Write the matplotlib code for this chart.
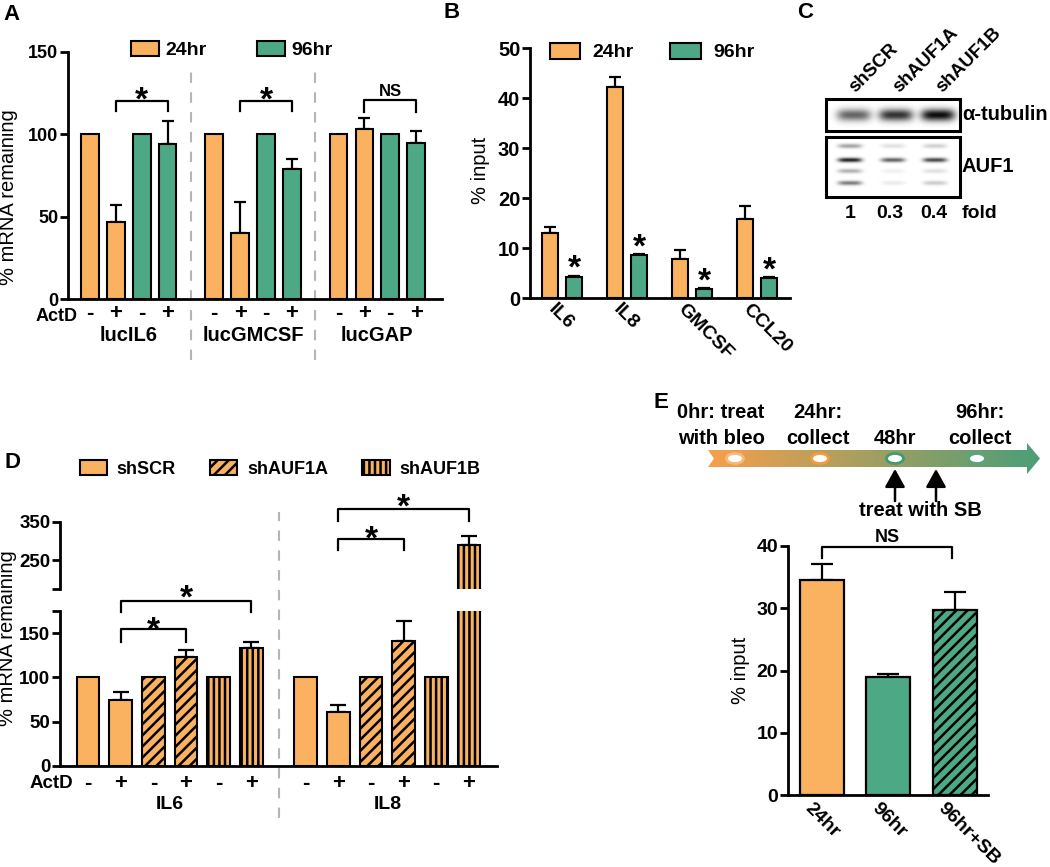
import numpy as np
import matplotlib
matplotlib.use('Agg')
import matplotlib.pyplot as plt
import matplotlib.transforms as mtrans
from matplotlib.patches import Patch, Polygon, Rectangle, Ellipse
from matplotlib.colors import LinearSegmentedColormap

plt.rcParams['font.family'] = ['Liberation Sans', 'DejaVu Sans']
plt.rcParams['font.weight'] = 'bold'
plt.rcParams['hatch.linewidth'] = 1.8

ORANGE = '#FAB160'
GREEN = '#4DA985'

# ---- panel A data
a_groups = ['lucIL6', 'lucGMCSF', 'lucGAP']
a_actd = ['-', '+', '-', '+']
a_colors = [ORANGE, ORANGE, GREEN, GREEN]
a_vals = [[100, 47, 100, 94], [100, 40, 100, 79], [100, 103, 100, 95]]
a_errs = [[0, 10, 0, 14], [0, 19, 0, 6], [0, 7, 0, 7]]
a_sig = ['*', '*', 'NS']

# ---- panel B data
b_genes = ['IL6', 'IL8', 'GMCSF', 'CCL20']
b_24 = [13.1, 42.3, 7.8, 15.8]
b_24_err = [1.1, 2.0, 1.8, 2.6]
b_96 = [4.3, 8.6, 1.8, 4.0]
b_96_err = [0.2, 0.2, 0.2, 0.2]

# ---- panel C (western blot)
c_lanes = ['shSCR', 'shAUF1A', 'shAUF1B']
c_fold = ['1', '0.3', '0.4']
c_tubulin = [0.6, 0.8, 0.95]
c_auf1 = [[0.35, 0.85, 0.3, 0.5], [0.12, 0.6, 0.06, 0.08], [0.18, 0.7, 0.12, 0.2]]

# ---- panel D data
d_genes = ['IL6', 'IL8']
d_lanes = ['shSCR', 'shAUF1A', 'shAUF1B']
d_hatch = ['', '', '///', '///', '|||', '|||']
d_actd = ['-', '+', '-', '+', '-', '+']
d_vals = [[100, 74, 100, 123, 100, 133], [100, 61, 100, 141, 100, 291]]
d_errs = [[0, 9, 0, 8, 0, 7], [0, 8, 0, 23, 0, 23]]

# ---- panel E data
e_conds = ['24hr', '96hr', '96hr+SB']
e_vals = [34.5, 19.0, 29.7]
e_errs = [2.6, 0.4, 2.9]
e_colors = [ORANGE, GREEN, GREEN]
e_hatch = ['', '', '///']
e_steps = [['0hr: treat', 'with bleo'], ['24hr:', 'collect'], ['48hr'], ['96hr:', 'collect']]

W, H = 1050, 867
fig = plt.figure(figsize=(W / 100, H / 100), dpi=100)

# overlay in pixel coords for letters, blot and timeline
ov = fig.add_axes([0, 0, 1, 1])
ov.axis('off')


def box_axes(x0, y0, x1, y1):
    return fig.add_axes([x0 / W, 1 - y1 / H, (x1 - x0) / W, (y1 - y0) / H])


def prism(ax, size):
    for s in ['top', 'right']:
        ax.spines[s].set_visible(False)
    for s in ['left', 'bottom']:
        ax.spines[s].set_linewidth(2)
    ax.tick_params(axis='y', direction='out', length=6, width=2, labelsize=size, pad=1)
    ax.tick_params(axis='x', length=0, labelbottom=False)
    ax.set_facecolor('none')


def star(ax, x, y, size=24):
    off = mtrans.ScaledTranslation(0, -0.58 * size / 72, fig.dpi_scale_trans)
    ax.text(x, y, '*', transform=ax.transData + off, ha='center', va='baseline',
            fontsize=size, clip_on=False)


def bracket(ax, x1, x2, ytop, yleg, label, ytxt, size=24):
    ax.plot([x1, x1, x2, x2], [yleg, ytop, ytop, yleg], color='k', lw=1.6, clip_on=False)
    if label == '*':
        star(ax, (x1 + x2) / 2, ytxt, size)
    else:
        ax.text((x1 + x2) / 2, ytxt, label, ha='center', va='center', fontsize=size, clip_on=False)


def errbars(ax, xs, vals, errs, cap):
    pts = [(x, v, e) for x, v, e in zip(xs, vals, errs) if e > 0]
    if not pts:
        return
    px, pv, pe = zip(*pts)
    ax.errorbar(px, pv, yerr=[[0] * len(pe), list(pe)], fmt='none', ecolor='k',
                elinewidth=1.6, capsize=cap, capthick=1.6, zorder=2)


# ================= A
axA = box_axes(68, 52, 442, 299)
prism(axA, 13)
axA.set_xlim(-0.85, 13.6)
axA.set_ylim(0, 150)
axA.set_yticks([0, 50, 100, 150])
tA = mtrans.blended_transform_factory(axA.transData, axA.transAxes)
for g, grp in enumerate(a_groups):
    xs = [g * 4.8 + i for i in range(4)]
    axA.bar(xs, a_vals[g], width=0.68, color=a_colors, edgecolor='k', lw=1.5, zorder=3)
    errbars(axA, xs, a_vals[g], a_errs[g], 4.5)
    for x, s in zip(xs, a_actd):
        axA.text(x, -0.06, s, transform=tA, ha='center', va='center', fontsize=16)
    axA.text(g * 4.8 + 1.5, -0.146, grp, transform=tA, ha='center', va='center', fontsize=14.5)
    if a_sig[g] == '*':
        bracket(axA, xs[1], xs[3], 120, 114, '*', 127)
    else:
        bracket(axA, xs[1], xs[3], 121, 113.5, 'NS', 126, 12)
axA.text(-0.5, -0.072, 'ActD', transform=tA, ha='right', va='center', fontsize=13)
for xd in [3.9, 8.7]:
    axA.plot([xd, xd], [-37, 143], ls=(0, (5, 4.5)), color='#b5b5b5', lw=1.5, clip_on=False)
fig.legend(handles=[Patch(fc=ORANGE, ec='k', lw=1.5, label='24hr'),
                    Patch(fc=GREEN, ec='k', lw=1.5, label='96hr')],
           loc='center', bbox_to_anchor=(232 / W, 1 - 50 / H), ncol=2, frameon=False,
           prop={'weight': 'bold', 'size': 14}, handlelength=1.4, handleheight=0.8,
           handletextpad=0.35, columnspacing=2.6, borderpad=0)

# ================= B
axB = box_axes(530, 48, 790, 298)
prism(axB, 14.5)
axB.set_xlim(-0.31, 3.69)
axB.set_ylim(0, 50)
axB.set_yticks([0, 10, 20, 30, 40, 50])
xo = np.arange(len(b_genes))
xg = xo + 0.37
axB.bar(xo, b_24, width=0.25, color=ORANGE, edgecolor='k', lw=1.5, zorder=3)
axB.bar(xg, b_96, width=0.25, color=GREEN, edgecolor='k', lw=1.5, zorder=3)
errbars(axB, xo, b_24, b_24_err, 4.5)
errbars(axB, xg, b_96, b_96_err, 4.5)
tB = mtrans.blended_transform_factory(axB.transData, axB.transAxes)
for i, gname in enumerate(b_genes):
    star(axB, xg[i], b_96[i] + 3.6)
    axB.text(xo[i] + 0.1, -0.012, gname, transform=tB, rotation=-45, rotation_mode='anchor',
             ha='left', va='top', fontsize=14)
fig.legend(handles=[Patch(fc=ORANGE, ec='k', lw=1.5, label='24hr'),
                    Patch(fc=GREEN, ec='k', lw=1.5, label='96hr')],
           loc='center', bbox_to_anchor=(652 / W, 1 - 52 / H), ncol=2, frameon=False,
           prop={'weight': 'bold', 'size': 14}, handlelength=1.55, handleheight=0.9,
           handletextpad=0.65, columnspacing=1.9, borderpad=0)


# ================= C
def blot_image(x0, y0, x1, y1, bands):
    X, Y = np.meshgrid(np.arange(x0, x1) + 0.5, np.arange(y0, y1) + 0.5)
    ink = np.zeros_like(X)
    for cx, cy, hw, hh, lvl in bands:
        ink += lvl * np.exp(-((X - cx) / hw) ** 4 - ((Y - cy) / hh) ** 2)
    return 1 - np.clip(ink, 0, 1)


tub_bands = [(cx, 115, 17, 6, lv) for cx, lv in zip([854, 896, 938], c_tubulin)]
auf_bands = []
for cx, lane in zip([850, 893, 935], c_auf1):
    for cy, lv in zip([146, 160, 171, 183], lane):
        auf_bands.append((cx, cy, 12, 2.3, lv))
for (x0, y0, x1, y1), bands in [((826, 99, 960, 131), tub_bands), ((826, 137, 960, 197), auf_bands)]:
    ov.imshow(blot_image(x0, y0, x1, y1, bands), extent=(x0, x1, y1, y0), cmap='gray',
              vmin=0, vmax=1, aspect='auto', interpolation='bilinear', zorder=1)
    ov.add_patch(Rectangle((x0, y0), x1 - x0, y1 - y0, fill=False, lw=2.2, ec='k', zorder=2))
for x, lab in zip([855, 899, 942], c_lanes):
    ov.text(x, 93, lab, rotation=45, rotation_mode='anchor', ha='left', va='baseline', fontsize=13.5)
ov.text(962, 115, 'α-tubulin', ha='left', va='center', fontsize=14.5)
ov.text(962, 167, 'AUF1', ha='left', va='center', fontsize=14.5)
for x, lab in zip([850, 890, 934, 980], c_fold + ['fold']):
    ov.text(x, 213, lab, ha='center', va='center', fontsize=14)

# ================= D
axDl = box_axes(60, 611, 497, 766)
axDu = box_axes(60, 522, 497, 589)
prism(axDl, 13.5)
prism(axDu, 13.5)
axDu.spines['bottom'].set_visible(False)
axDl.set_ylim(0, 175)
axDu.set_ylim(175, 350)
axDl.set_yticks([0, 50, 100, 150, 175], ['0', '50', '100', '150', ''])
axDu.set_yticks([175, 250, 350], ['', '250', '350'])
tD = mtrans.blended_transform_factory(axDl.transData, axDl.transAxes)
for ax in (axDl, axDu):
    ax.set_xlim(-0.86, 12.53)
for g, gname in enumerate(d_genes):
    xs = [g * 6.67 + i for i in range(6)]
    for ax in (axDl, axDu):
        ax.bar(xs, d_vals[g], width=0.7, color=ORANGE, edgecolor='k', lw=1.5,
               hatch=d_hatch, zorder=3)
        errbars(ax, xs, d_vals[g], d_errs[g], 6)
    for x, s in zip(xs, d_actd):
        axDl.text(x, -0.11, s, transform=tD, ha='center', va='center', fontsize=16)
    axDl.text(g * 6.67 + 2.5, -0.25, gname, transform=tD, ha='center', va='center', fontsize=14)
axDl.text(-0.45, -0.11, 'ActD', transform=tD, ha='right', va='center', fontsize=13.5)
axDl.plot([5.84, 5.84], [-59, 287], ls=(0, (5, 4.5)), color='#b5b5b5', lw=1.5, clip_on=False)
bracket(axDl, 1, 3, 155, 140, '*', 165)
bracket(axDl, 1, 5, 186, 174, '*', 201)
bracket(axDu, 7.67, 9.67, 305, 276.5, '*', 332)
bracket(axDu, 7.67, 11.67, 383.5, 352, '*', 415)
fig.legend(handles=[Patch(fc=ORANGE, ec='k', lw=1.5, hatch=h, label=l)
                    for h, l in zip(['', '///', '|||'], d_lanes)],
           loc='center', bbox_to_anchor=(280 / W, 1 - 469 / H), ncol=3, frameon=False,
           prop={'weight': 'bold', 'size': 13}, handlelength=1.5, handleheight=0.9,
           handletextpad=0.55, columnspacing=1.9, borderpad=0)

# ================= E timeline
cmap_tl = LinearSegmentedColormap.from_list('tl', ['#F6A04B', '#4B9E78'])
arrow_pts = [(708, 450), (1027, 450), (1027, 443), (1040, 458.5), (1027, 474),
             (1027, 467), (708, 467), (714, 458.5)]
poly = Polygon(arrow_pts, closed=True, fc='none', ec='none')
ov.add_patch(poly)
im = ov.imshow(np.linspace(0, 1, 256).reshape(1, -1), extent=(708, 1040, 474, 443),
               cmap=cmap_tl, aspect='auto', zorder=1)
im.set_clip_path(poly)
for cx, ec in zip([735, 820, 895, 977], ['#F8B87A', '#F39A45', '#3F9C70', '#5AA37F']):
    ov.add_patch(Ellipse((cx, 458.5), 17, 10, fc='white', ec=ec, lw=2, zorder=3))
for x, lines in zip([721, 818, 895, 980], e_steps):
    for k, line in enumerate(reversed(lines)):
        ov.text(x, 438 - 25 * k, line, ha='center', va='center', fontsize=14.5)
for x in [895, 936]:
    ov.annotate('', xy=(x, 469), xytext=(x, 501),
                arrowprops=dict(arrowstyle='-|>,head_length=0.5,head_width=0.28', color='k',
                                lw=1.8, mutation_scale=22, shrinkA=0, shrinkB=0))
ov.text(920, 510, 'treat with SB', ha='center', va='center', fontsize=14.5)

# ================= E bars
axE = box_axes(788, 546, 988, 795)
prism(axE, 14)
axE.set_xlim(-0.51, 2.5)
axE.set_ylim(0, 40)
axE.set_yticks([0, 10, 20, 30, 40])
xe = np.arange(len(e_conds))
axE.bar(xe, e_vals, width=0.66, color=e_colors, edgecolor='k', lw=1.6, hatch=e_hatch, zorder=3)
errbars(axE, xe, e_vals, e_errs, 8)
bracket(axE, 0, 1.96, 39.8, 38, 'NS', 41.4, 13)
tE = mtrans.blended_transform_factory(axE.transData, axE.transAxes)
for i, lab in enumerate(e_conds):
    axE.text(xe[i] - 0.12, -0.02, lab, transform=tE, rotation=-45, rotation_mode='anchor',
             ha='left', va='top', fontsize=14)

# ================= y labels and panel letters
for (x, y), lab in zip([(9, 197), (481, 170), (8, 638), (740, 670)],
                       ['% mRNA remaining', '% input', '% mRNA remaining', '% input']):
    ov.text(x, y, lab, rotation=90, ha='center', va='center', fontsize=14.5, fontweight='normal')
for (x, y), lab in zip([(12, 15), (452, 12), (805, 12), (12, 462), (661, 403)], 'ABCDE'):
    ov.text(x, y, lab, ha='center', va='center', fontsize=16)

ov.set_xlim(0, W)
ov.set_ylim(H, 0)

fig.savefig('out.png', dpi=100)
